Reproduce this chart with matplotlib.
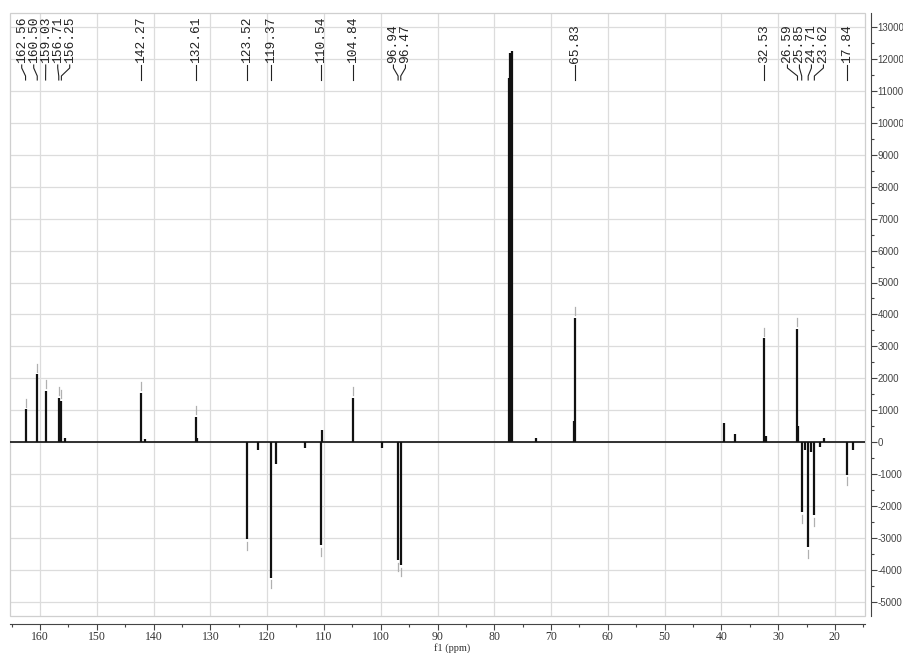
import matplotlib
matplotlib.use("Agg")
import matplotlib.pyplot as plt
from matplotlib.transforms import blended_transform_factory
from matplotlib.patches import Rectangle
from matplotlib.ticker import MultipleLocator
import numpy as np

plt.rcParams['axes.unicode_minus'] = False

# ---------------- data ----------------
pos_ppm = [162.56, 160.50, 159.03, 156.71, 156.25, 155.6, 142.27, 141.5, 132.61, 132.3,
           110.40, 104.84, 77.48, 77.16, 76.84, 72.7, 65.95, 65.83, 39.6, 37.6,
           32.53, 32.2, 26.59, 26.45, 21.9]
pos_int = [1020, 2120, 1600, 1390, 1285, 120, 1545, 100, 795, 130,
           380, 1380, 11400, 12200, 12250, 120, 650, 3900, 580, 250,
           3250, 200, 3550, 500, 130]

neg_ppm = [123.52, 121.6, 119.37, 118.5, 113.3, 110.54, 99.8, 96.94, 96.47,
           25.85, 25.3, 24.71, 24.2, 23.62, 22.6, 17.84, 16.8]
neg_int = [-3050, -250, -4250, -690, -180, -3230, -200, -3700, -3860,
           -2200, -250, -3300, -300, -2300, -150, -1030, -250]

label_ppm = [162.56, 160.50, 159.03, 156.71, 156.25, 142.27, 132.61, 123.52, 119.37,
             110.54, 104.84, 96.94, 96.47, 65.83, 32.53, 26.59, 25.85, 24.71, 23.62, 17.84]

x_ticks = [160, 150, 140, 130, 120, 110, 100, 90, 80, 70, 60, 50, 40, 30, 20]
y_ticks = list(range(-5000, 14000, 1000))

# ---------------- figure ----------------
W, H = 904, 653
fig = plt.figure(figsize=(W / 100, H / 100), dpi=100)
L, R, T, B = 10, 865, 13, 616
ax = fig.add_axes([L / W, (H - B) / H, (R - L) / W, (B - T) / H])

xmax, xmin = 165.3, 14.7
ax.set_xlim(xmax, xmin)
y0_pix = 442
ppk = 31.9  # pixels per 1000
ytop = (y0_pix - T) / ppk * 1000
ybot = -(B - y0_pix) / ppk * 1000
ax.set_ylim(ybot, ytop)

# grid
for xv in x_ticks:
    ax.axvline(xv, color='#dcdcdc', lw=0.9, zorder=0)
for yv in y_ticks:
    ax.axhline(yv, color='#dcdcdc', lw=0.9, zorder=0)

# frame box
ax.add_patch(Rectangle((0, 0), 1, 1, transform=ax.transAxes, fill=False,
                       edgecolor='#cfcfcf', lw=0.9, zorder=0.5, clip_on=False))

# baseline + peaks
ax.axhline(0, color='#222222', lw=1.3, zorder=2)
ax.vlines(pos_ppm, 0, pos_int, color='#111111', lw=1.6, zorder=3)
ax.vlines(neg_ppm, 0, neg_int, color='#111111', lw=1.6, zorder=3)

# peak-pick markers (faint)
all_ppm = np.array(pos_ppm + neg_ppm)
all_int = np.array(pos_int + neg_int)
for lp in label_ppm:
    i = int(np.argmin(np.abs(all_ppm - lp)))
    v = all_int[i]
    s = 1 if v > 0 else -1
    ax.plot([all_ppm[i], all_ppm[i]], [v + s * 80, v + s * 330], color='#b0b0b0', lw=0.9, zorder=2)

# spines / ticks
for sp in ['left', 'top']:
    ax.spines[sp].set_visible(False)
ax.spines['right'].set_position(('outward', 4))
ax.spines['bottom'].set_position(('outward', 6))
ax.spines['right'].set_color('#444444')
ax.spines['bottom'].set_color('#444444')
ax.yaxis.tick_right()
ax.set_xticks(x_ticks)
ax.set_xticklabels([str(v) for v in x_ticks], fontfamily='Liberation Serif', fontsize=8.5, color='#333333')
ax.xaxis.set_minor_locator(MultipleLocator(5))
ax.set_yticks(y_ticks)
ax.set_yticklabels([str(v) for v in y_ticks], fontfamily='Liberation Sans', fontsize=7, color='#444444')
ax.yaxis.set_minor_locator(MultipleLocator(500))
ax.tick_params(axis='x', which='major', length=4, width=0.8, color='#444444', pad=1)
ax.tick_params(axis='x', which='minor', length=2, width=0.8, color='#444444')
ax.tick_params(axis='y', which='major', length=4, width=0.8, color='#444444', pad=1)
ax.tick_params(axis='y', which='minor', length=2, width=0.8, color='#444444')
fig.text(452 / W, (H - 648) / H, 'f1 (ppm)', ha='center', va='center',
         fontfamily='Liberation Serif', fontsize=7.5, color='#333333')

# ---------------- peak labels ----------------
px_per_ppm = (R - L) / (xmax - xmin)
spacing = 12.0 / px_per_ppm
lab = sorted(label_ppm, reverse=True)
groups = [[p] for p in lab]
changed = True
while changed:
    changed = False
    pos = []
    for g in groups:
        c = np.mean(g)
        n = len(g)
        pos.append([c + spacing * ((n - 1) / 2 - k) for k in range(n)])
    for gi in range(len(groups) - 1):
        if pos[gi][-1] - pos[gi + 1][0] < spacing - 1e-9:
            groups[gi] = groups[gi] + groups[gi + 1]
            del groups[gi + 1]
            changed = True
            break
label_pos = []
for g in groups:
    c = np.mean(g)
    n = len(g)
    label_pos += [c + spacing * ((n - 1) / 2 - k) for k in range(n)]

trans = blended_transform_factory(ax.transData, ax.transAxes)
def ya(pix):
    return (B - pix) / (B - T)

for p, lx in zip(lab, label_pos):
    ax.text(lx, ya(63), f"{p:.2f}", rotation=90, ha='center', va='bottom',
            fontfamily='Liberation Mono', fontsize=9.3, color='#222222',
            transform=trans, clip_on=False)
    ax.plot([lx, lx, p, p], [ya(65), ya(68), ya(76), ya(80)], color='#222222',
            lw=0.8, transform=trans, clip_on=False)

fig.savefig('out.png', dpi=100)
